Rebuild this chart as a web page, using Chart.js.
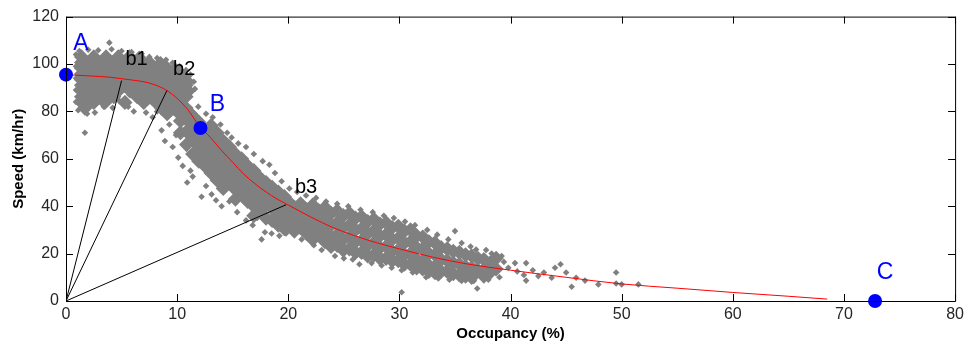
<!DOCTYPE html>
<html>
<head>
<meta charset="utf-8">
<script src="https://cdn.jsdelivr.net/npm/chart.js@4.4.0/dist/chart.umd.min.js"></script>
<style>
  html, body { margin: 0; padding: 0; background: #fff; }
  #wrap { width: 968px; height: 353px; }
</style>
</head>
<body>
<div id="wrap"><canvas id="fdChart"></canvas></div>
<script>
// ===== Speed / occupancy data =====

const xTicks = [0, 10, 20, 30, 40, 50, 60, 70, 80];
const yTicks = [0, 20, 40, 60, 80, 100, 120];

// dense part of the detector cloud [occupancy, speed]
const denseCloud = [
  // free-flow blob
  [1.4,103],[2.5,103],[3.6,103],[4.7,103],[5.7,103],[6.6,102.5],
  [1.4,100.6],[2.0,100.6],[3.1,100.6],[4.2,100.6],[5.3,100.6],[6.4,100.6],[7.5,100.6],[8.5,100.2],
  [1.4,98.2],[2.5,98.2],[3.6,98.2],[4.7,98.2],[5.8,98.2],[6.9,98.2],[8.0,98.2],[9.1,98.2],[9.8,97.6],
  [1.4,95.8],[2.0,95.8],[3.1,95.8],[4.2,95.8],[5.3,95.8],[6.4,95.8],[7.5,95.8],[8.6,95.8],[9.7,95.8],[10.5,95],
  [1.4,93.4],[2.5,93.4],[3.6,93.4],[4.7,93.4],[5.8,93.4],[6.9,93.4],[8.0,93.4],[9.1,93.4],[10.2,93.4],[10.9,92.6],
  [1.4,91],[2.0,91],[3.1,91],[4.2,91],[5.3,91],[6.4,91],[7.5,91],[8.6,91],[9.7,91],[10.8,91],
  [1.4,88.6],[2.5,88.6],[3.6,88.6],[4.7,88.6],[5.8,88.6],[6.9,88.6],[8.0,88.6],[9.1,88.6],[10.2,88.6],[11.0,88.6],
  [1.4,86.2],[2.0,86.2],[3.1,86.2],[4.3,86.2],[6.4,86.2],[7.5,86.2],[8.6,86.2],[9.7,86.2],[10.8,86.2],
  [1.4,83.8],[2.5,83.8],[3.5,83.8],[5.3,83.8],[7.0,83.8],[8.1,83.8],[9.2,83.8],[10.3,83.8],
  [1.7,81.4],[8.6,81.4],[9.7,81.4],[10.8,81.4],
  [9.1,79],[10.2,79],[11.2,79],
  // transition band
  [10.3,76],[10.3,71],[10.85,76.5],[10.85,71.5],[10.85,66],
  [11.4,78],[11.4,73],[11.4,68],[11.4,62],
  [11.95,75.5],[11.95,70.5],[11.95,65.5],[11.95,59],
  [12.5,72],[12.5,67],[12.5,62],[12.5,57],
  [13.05,74],[13.05,69],[13.05,64.5],[13.05,59.5],[13.05,54],
  [13.6,71],[13.6,66],[13.6,61],[13.6,56],[13.6,51],
  [14.15,67.5],[14.15,62.5],[14.15,57.5],[14.15,52.5],[14.15,47.5],
  [14.7,65],[14.7,60],[14.7,55],[14.7,50],
  [15.25,62],[15.25,57],[15.25,52],[15.25,47],[15.25,43],
  [15.8,60],[15.8,55],[15.8,50],[15.8,45],
  [16.35,57],[16.35,52],[16.35,47],[16.35,42],
  [16.9,55],[16.9,50],[16.9,45],[16.9,40],[16.9,36],
  [17.45,52],[17.45,47],[17.45,42.5],[17.45,38],
  [18.0,50],[18.0,45],[18.0,40.5],[18.0,35],
  [18.55,48],[18.55,43.5],[18.55,39],[18.55,34],
  [19.1,46],[19.1,41.5],[19.1,37],[19.1,32],
  [19.65,44],[19.65,39.5],[19.65,35],[19.65,30.5],
  // congested band
  [20.0,42],[20.0,37],[20.0,32],
  [20.55,39.5],[20.55,34.5],[20.55,29.5],
  [21.1,41],[21.1,36],[21.1,31],
  [21.65,38.5],[21.65,33.5],[21.65,28.5],
  [22.2,40.5],[22.2,35.5],[22.2,30.5],[22.2,26],
  [22.75,38],[22.75,33],[22.75,28],
  [23.3,39.5],[23.3,34.5],[23.3,29.5],[23.3,25],
  [23.85,37],[23.85,32],[23.85,27],[23.85,23],
  [24.4,38],[24.4,33],[24.4,28],[24.4,23.5],
  [24.95,36],[24.95,31],[24.95,26],[24.95,21.5],
  [25.5,37],[25.5,32],[25.5,27],[25.5,22],
  [26.05,35],[26.05,30],[26.05,25],[26.05,20.5],
  [26.6,35.5],[26.6,30.5],[26.6,25.5],[26.6,20.5],
  [27.15,33.5],[27.15,28.5],[27.15,23.5],[27.15,19],
  [27.7,34.5],[27.7,29.5],[27.7,24.5],[27.7,19.5],
  [28.25,32.5],[28.25,27.5],[28.25,22.5],[28.25,18],
  [28.8,33],[28.8,28],[28.8,23],[28.8,18],
  [29.35,31],[29.35,26],[29.35,21],[29.35,17],
  [29.9,31.5],[29.9,26.5],[29.9,21.5],[29.9,17],
  [30.45,29.5],[30.45,24.5],[30.45,19.5],[30.45,15.5],
  [31.0,30],[31.0,25],[31.0,20],[31.0,15.5],
  [31.55,27.5],[31.55,22.5],[31.55,17.5],[31.55,14],
  [32.1,27],[32.1,22],[32.1,17],[32.1,13.5],
  [32.65,25],[32.65,20],[32.65,15],[32.65,12.5],
  [33.2,24.5],[33.2,19.5],[33.2,14.5],[33.2,12],
  [33.75,22.5],[33.75,17.5],[33.75,12.5],
  [34.3,22],[34.3,17],[34.3,12.5],
  [34.85,21],[34.85,16],[34.85,11.5],
  [35.4,20.5],[35.4,15.5],[35.4,11],
  [35.95,19.5],[35.95,14.5],[35.95,10.5],
  [36.5,19],[36.5,14],[36.5,10],
  [37.05,18],[37.05,13],
  [37.6,17.5],[37.6,13],[37.6,10.5],
  [38.15,16],[38.15,12],
  [38.7,18],[38.7,13.5]
];

// sparse edge points and outliers [occupancy, speed]
const looseCloud = [
  [1.2,105.5],[2.0,106],[2.9,105.8],[3.9,109],[4.1,106.2],[5.0,105.5],[5.9,105],[6.8,104.3],
  [7.5,103],[8.2,102.5],[9.0,101.8],[9.6,100.5],[10.2,99],[10.8,97.5],[11.2,95.5],[11.5,92.5],
  [11.6,89.5],[0.9,104],[0.9,99],[0.9,94],[0.9,89],[0.9,84],
  [1.1,80.5],[1.9,79],[1.7,71],[2.6,79.5],[3.4,82],[4.2,81.5],[4.8,84.5],[5.6,82],[6.1,80],
  [6.6,84],[7.2,79.5],[7.8,77.5],[8.2,80],[4.5,86.5],[5.7,87],[3.8,85],
  [8.6,72],[8.9,67.5],[9.3,74.5],[9.6,65],[9.9,70],[10.1,60.5],[10.5,57],[10.9,50],[11.2,55],
  [11.4,52.5],[11.6,61],[12.2,44],[12.6,48.5],[13.1,45],[13.5,42.5],[14.0,40],[14.7,42],
  [15.4,37.5],[16.2,34],[16.8,32],[17.2,35],[17.6,26],[17.9,29],[18.5,28.5],[19.2,27.5],[19.8,28.5],
  [11.9,82],[12.6,79],[13.2,77.5],[13.9,74.5],[14.5,71],[14.9,69],[15.5,66.5],[16.2,65],
  [16.9,62],[17.7,59],[18.3,57.5],[18.8,54],[19.4,50.5],[20.1,47.5],[20.8,46],[21.6,44.5],
  [22.5,43.5],[23.4,42],[24.4,41],[25.4,40],[26.5,38.5],[27.6,37.5],[28.6,36],[29.5,35],
  [30.5,33.5],[31.4,32],[32.5,30],[33.4,28],[34.4,26],[35,29.5],[35.6,24.5],[36.4,23],
  [36.9,21.7],[37.8,21.5],[38.3,20],[39.2,19],[39.4,16.5],[39.8,14],
  [21.2,26],[22.3,23.5],[23,21.5],[24.2,19],[25,18],[25.8,17.5],[26.4,15.5],[27.5,16],
  [28.4,15],[29.3,14],[30.2,13],[31.2,12],[32.4,10],[33.5,9.5],[34.5,9],[35.6,8.5],
  [36.7,8.5],[38,9],[39,10],[30.2,3.7],[37,5.3],
  [40.4,16],[41.4,16],[40.6,12.5],[41.2,11],[42,13],[42.5,10.5],[43,12],[43.7,9.8],
  [44,14],[44.5,15.5],[45,12],[45.5,6],[45.9,9.8],[46.7,8.6],[47.9,7],[41.4,8.6],
  [49.5,12],[49.5,7.4],[50,7],[51.5,7]
];

// fitted speed-occupancy curve
const fitOccupancy = [0, 2, 4, 5, 6, 7, 8, 9, 10, 11, 12, 13, 14, 15, 16, 17, 18, 19, 20,
  22, 24, 26, 28, 30, 33, 36, 40, 45, 50, 55, 60, 65, 68.5];
const fitSpeed = [95.5, 95, 94.4, 93.8, 93.2, 92.5, 91.2, 89, 85.5, 80.5, 73.8, 69, 63.5, 58.5,
  53.5, 49.5, 46, 43, 40.5, 35.5, 31, 27.5, 24.5, 22, 18.5, 15.7, 13, 10, 7.2, 5.4, 3.6, 2, 0.8];

// named states
const stateNames = ['A', 'B', 'C'];
const stateOccupancy = [0, 12.1, 72.8];
const stateSpeed = [95.5, 73, 0];

// breakpoints reached by rays from the origin
const breakNames = ['b1', 'b2', 'b3'];
const breakOccupancy = [5.0, 9.1, 19.8];
const breakSpeed = [93, 89, 40.6];

// ===== Chart =====

const toPoints = list => list.map(p => ({ x: p[0], y: p[1] }));

const datasets = [
  {
    label: 'states',
    data: stateOccupancy.map((x, i) => ({ x: x, y: stateSpeed[i] })),
    pointStyle: 'circle',
    pointRadius: 7,
    backgroundColor: '#0000ff',
    borderColor: '#0000ff',
    borderWidth: 0,
    clip: false,
    order: 0
  },
  {
    label: 'fit',
    data: fitOccupancy.map((x, i) => ({ x: x, y: fitSpeed[i] })),
    showLine: true,
    cubicInterpolationMode: 'monotone',
    borderColor: '#ff0000',
    borderWidth: 1,
    pointRadius: 0,
    order: 1
  }
];

breakNames.forEach((name, i) => {
  datasets.push({
    label: name,
    data: [{ x: 0, y: 0 }, { x: breakOccupancy[i], y: breakSpeed[i] }],
    showLine: true,
    borderColor: '#000000',
    borderWidth: 1,
    pointRadius: 0,
    order: 2
  });
});

datasets.push({
  label: 'loose',
  data: toPoints(looseCloud),
  pointStyle: 'rectRot',
  pointRadius: 3.3,
  backgroundColor: '#808080',
  borderWidth: 0,
  order: 3
});
datasets.push({
  label: 'dense',
  data: toPoints(denseCloud),
  pointStyle: 'rectRot',
  pointRadius: 7.6,
  backgroundColor: '#808080',
  borderWidth: 0,
  order: 4
});

// frame with inward ticks on all four sides, plus the text labels
const framePlugin = {
  id: 'frame',
  afterDatasetsDraw(chart) {
    const { ctx, chartArea: a, scales } = chart;
    const len = 7;
    ctx.save();
    ctx.strokeStyle = '#000';
    ctx.lineWidth = 1;
    ctx.beginPath();
    ctx.rect(a.left + 0.5, a.top + 0.5, a.right - a.left, a.bottom - a.top);
    xTicks.forEach(v => {
      const px = Math.round(scales.x.getPixelForValue(v)) + 0.5;
      ctx.moveTo(px, a.bottom); ctx.lineTo(px, a.bottom - len);
      ctx.moveTo(px, a.top); ctx.lineTo(px, a.top + len);
    });
    yTicks.forEach(v => {
      const py = Math.round(scales.y.getPixelForValue(v)) + 0.5;
      ctx.moveTo(a.left, py); ctx.lineTo(a.left + len, py);
      ctx.moveTo(a.right, py); ctx.lineTo(a.right - len, py);
    });
    ctx.stroke();

    ctx.textAlign = 'center';
    ctx.textBaseline = 'middle';
    ctx.fillStyle = '#0000ff';
    ctx.font = '23px "Liberation Sans", Arial, sans-serif';
    const stateOffsets = [[15, -31], [17, -23], [10, -28]];
    stateNames.forEach((name, i) => {
      const px = scales.x.getPixelForValue(stateOccupancy[i]);
      const py = scales.y.getPixelForValue(stateSpeed[i]);
      ctx.fillText(name, px + stateOffsets[i][0], py + stateOffsets[i][1]);
    });
    ctx.fillStyle = '#000';
    ctx.font = '20px "Liberation Sans", Arial, sans-serif';
    const breakOffsets = [[15, -21], [17, -21], [20, -17]];
    breakNames.forEach((name, i) => {
      const px = scales.x.getPixelForValue(breakOccupancy[i]);
      const py = scales.y.getPixelForValue(breakSpeed[i]);
      ctx.fillText(name, px + breakOffsets[i][0], py + breakOffsets[i][1]);
    });
    ctx.restore();
  }
};

const tickFont = { family: '"Liberation Sans Narrow", "Liberation Sans", Arial, sans-serif', size: 16 };
const titleFont = { family: '"Liberation Sans", Arial, sans-serif', size: 15, weight: 'bold' };

new Chart(document.getElementById('fdChart'), {
  type: 'scatter',
  data: { datasets: datasets },
  options: {
    responsive: true,
    maintainAspectRatio: false,
    animation: false,
    devicePixelRatio: 1,
    layout: { padding: { top: 8, right: 10, left: 0, bottom: 0 } },
    plugins: {
      legend: { display: false },
      tooltip: { enabled: false }
    },
    scales: {
      x: {
        type: 'linear',
        min: 0,
        max: 80,
        afterBuildTicks: s => { s.ticks = xTicks.map(v => ({ value: v })); },
        afterFit: s => { s.height = 52; },
        grid: { display: false, drawTicks: false },
        border: { display: false },
        ticks: { font: tickFont, color: '#262626', padding: 4, maxRotation: 0, autoSkip: false },
        title: { display: true, text: 'Occupancy (%)', font: titleFont, color: '#000', padding: 10 }
      },
      y: {
        type: 'linear',
        min: 0,
        max: 120,
        afterBuildTicks: s => { s.ticks = yTicks.map(v => ({ value: v })); },
        afterFit: s => { s.width = 66; },
        grid: { display: false, drawTicks: false },
        border: { display: false },
        ticks: { font: tickFont, color: '#262626', padding: 7, autoSkip: false },
        title: { display: true, text: 'Speed (km/hr)', font: titleFont, color: '#000', padding: 10 }
      }
    }
  },
  plugins: [framePlugin]
});
</script>
</body>
</html>
